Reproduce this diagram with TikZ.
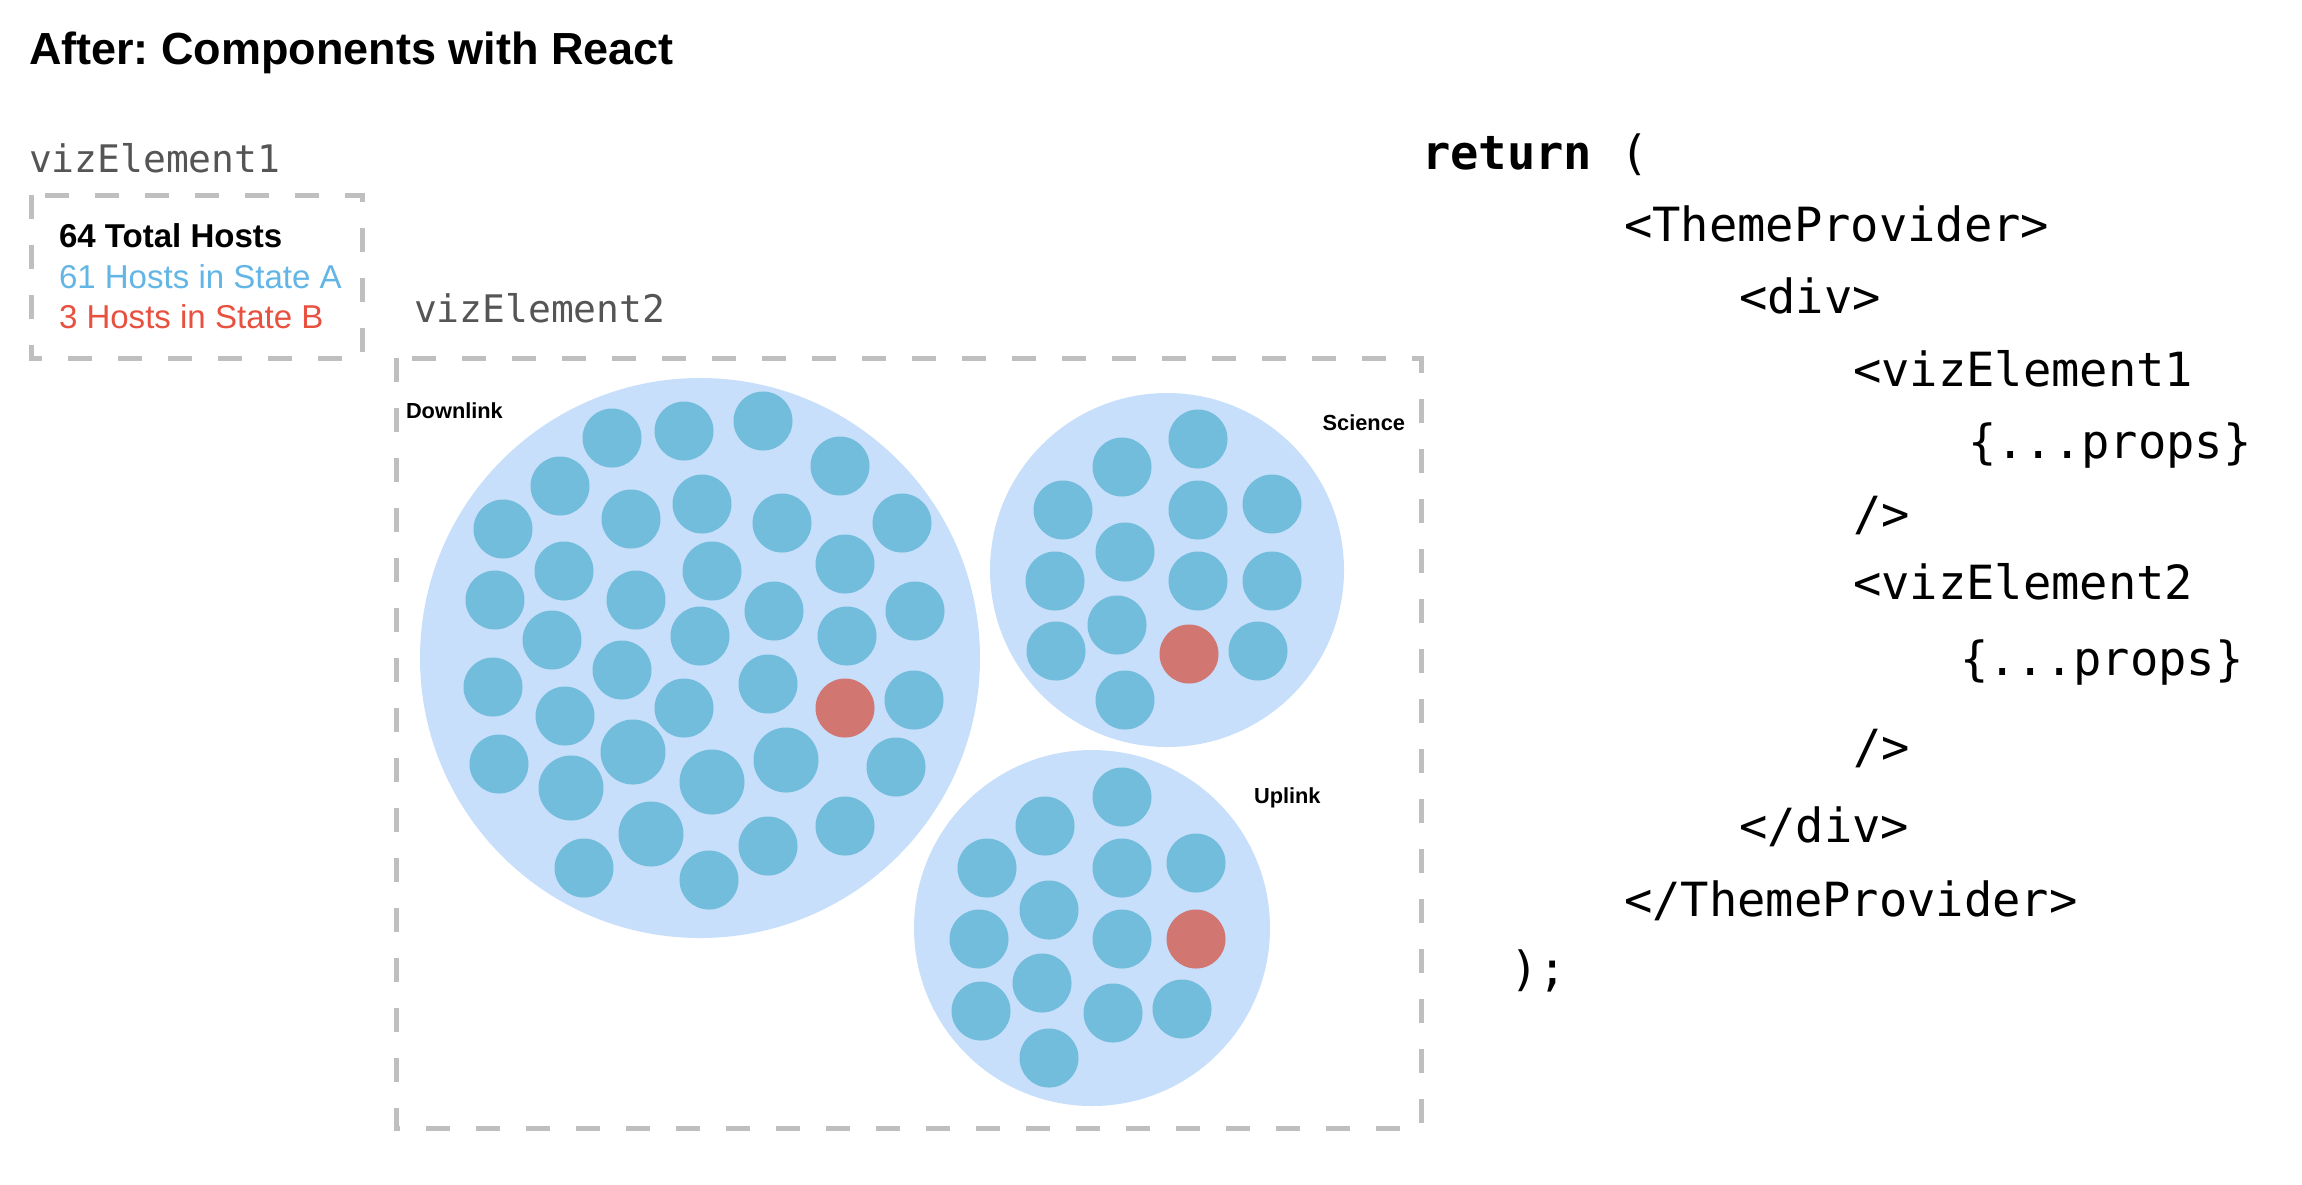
\documentclass[tikz,border=0pt]{standalone}
\usepackage{fontspec}
\setmainfont{Liberation Sans}
\newfontfamily\codefont{DejaVu Sans Mono}
\frenchspacing
\usetikzlibrary{positioning}
\definecolor{boxgray}{HTML}{BFBFBF}
\definecolor{labelgray}{HTML}{555555}
\definecolor{stateA}{HTML}{62B5E5}
\definecolor{stateB}{HTML}{E8503F}
\definecolor{groupfill}{HTML}{C7DFFA}
\definecolor{hostfill}{HTML}{72BCDC}
\definecolor{hostalert}{HTML}{D27672}
\tikzset{
  vizbox/.style={draw=boxgray, line width=0.5mm, dash pattern=on 2.4mm off 2.6mm},
  txt/.style={anchor=base west, inner sep=0pt, outer sep=0pt},
  heading/.style={txt, font={\fontsize{12.8}{15}\selectfont\bfseries}},
  vizlabel/.style={txt, text=labelgray, font={\codefont\fontsize{10.8}{13}\selectfont}},
  stat/.style={txt, font={\fontsize{9.4}{11}\selectfont}},
  grouplabel/.style={txt, font={\fontsize{6.2}{7}\selectfont\bfseries}},
  codeline/.style={txt, font={\codefont\fontsize{13.4}{16}\selectfont}},
  group/.style={circle, fill=groupfill, inner sep=0pt},
  host/.style={fill=hostfill},
  alert/.style={fill=hostalert}
}

\begin{document}
\begin{tikzpicture}[x=0.1mm, y=-0.1mm]
  \useasboundingbox (0,0) rectangle (2302,1184);

  \node[heading] (title) at (29,64) {After: Components with React};

  % vizElement1: summary box
  \node[vizlabel] (vizlabel1) at (29,172) {vizElement1};
  \draw[vizbox] (31,195) rectangle (362,358);
  \node[stat, font={\fontsize{9.4}{11}\selectfont\bfseries}] (total) at (59,247) {64 Total Hosts};
  \node[stat, text=stateA] (stateAline) at (59,288) {61 Hosts in State A};
  \node[stat, text=stateB] (stateBline) at (59,328) {3 Hosts in State B};

  % vizElement2: grouped hosts
  \node[vizlabel] (vizlabel2) at (414,322) {vizElement2};
  \draw[vizbox] (396,358) rectangle (1421,1128);

  \node[group, minimum size=56mm] (downlink) at (700,658) {};
  \node[group, minimum size=35.4mm] (science) at (1167,570) {};
  \node[group, minimum size=35.6mm] (uplink) at (1092,928) {};

  \node[grouplabel] (downlinklabel) at (406,418) {Downlink};
  \node[grouplabel, anchor=base east] (sciencelabel) at (1405,430) {Science};
  \node[grouplabel] (uplinklabel) at (1254,803) {Uplink};

  % hosts in Downlink
  \foreach \cx/\cy in {612/438, 684/431, 763/421, 840/466, 560/486, 631/519,
      702/504, 782/523, 902/523, 503/529, 564/571, 712/571, 845/564, 495/600,
      636/600, 774/611, 915/611, 552/640, 700/636, 847/636, 622/670, 493/687,
      768/684, 914/700, 684/708, 565/716, 499/764, 896/767, 845/826, 768/846,
      584/868, 709/880}
    \fill[host] (\cx,\cy) circle (2.95mm);
  \foreach \cx/\cy in {633/752, 786/760, 571/788, 712/782, 651/834}
    \fill[host] (\cx,\cy) circle (3.25mm);
  \fill[alert] (845,708) circle (2.95mm);

  % hosts in Science
  \foreach \cx/\cy in {1198/439, 1122/467, 1063/510, 1198/510, 1272/504,
      1125/552, 1055/581, 1198/581, 1272/581, 1117/625, 1056/651, 1258/651,
      1125/700}
    \fill[host] (\cx,\cy) circle (2.95mm);
  \fill[alert] (1189,654) circle (2.95mm);

  % hosts in Uplink
  \foreach \cx/\cy in {1122/797, 1045/826, 987/868, 1122/868, 1196/863,
      1049/910, 979/939, 1122/939, 1042/983, 981/1011, 1113/1013, 1182/1009,
      1049/1058}
    \fill[host] (\cx,\cy) circle (2.95mm);
  \fill[alert] (1196,939) circle (2.95mm);

  % JSX on the right
  \node[codeline, font={\codefont\fontsize{13.4}{16}\selectfont\bfseries}] (ret) at (1422,169) {return};
  \node[codeline, right=0pt of ret.base east, anchor=base west] (paren) {~(};
  \node[codeline] (themeopen) at (1624,241) {<ThemeProvider>};
  \node[codeline] (divopen) at (1739,313) {<div>};
  \node[codeline] (vizopen1) at (1853,386) {<vizElement1};
  \node[codeline] (props1) at (1968,458) {\{...props\}};
  \node[codeline] (vizclose1) at (1853,530) {/>};
  \node[codeline] (vizopen2) at (1853,599) {<vizElement2};
  \node[codeline] (props2) at (1960,675) {\{...props\}};
  \node[codeline] (vizclose2) at (1853,763) {/>};
  \node[codeline] (divclose) at (1739,842) {</div>};
  \node[codeline] (themeclose) at (1624,916) {</ThemeProvider>};
  \node[codeline] (retclose) at (1510,985) {);};
\end{tikzpicture}
\end{document}
